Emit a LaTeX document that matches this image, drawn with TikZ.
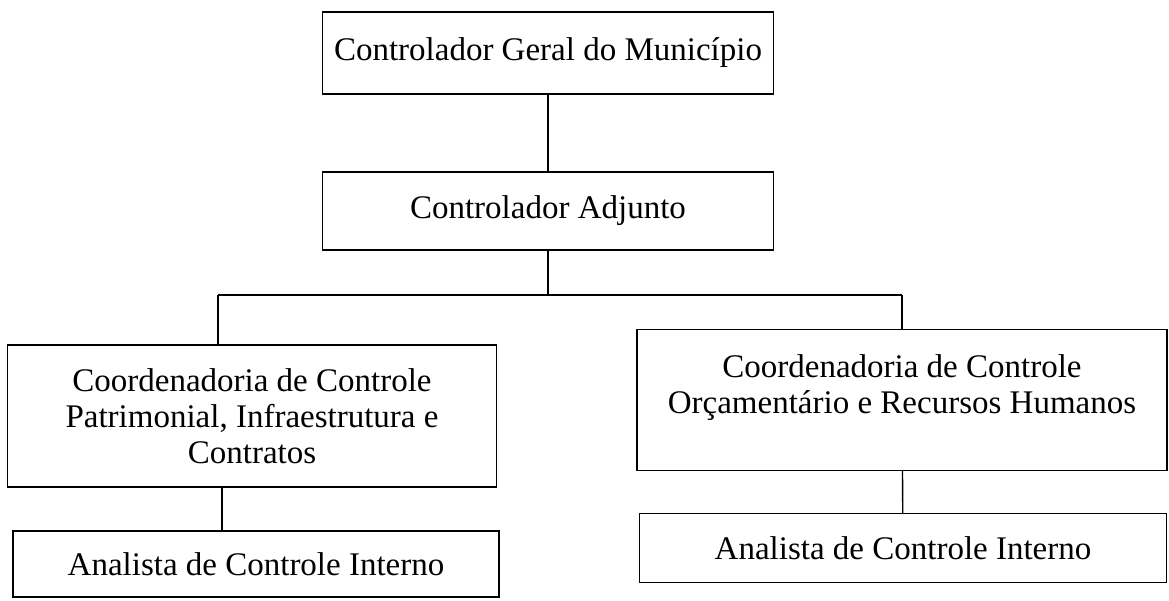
\documentclass[tikz,border=0pt]{standalone}
\usepackage{fontspec}
\setmainfont{Liberation Serif}
\begin{document}
\begin{tikzpicture}[x=1pt,y=-1pt,line width=1.4pt]
    \tikzstyle{orgbox}=[draw,align=center,inner sep=0pt,font=\fontsize{33}{36}\selectfont]
    \useasboundingbox (0,0) rectangle (1169,601);

    % upper levels
    \node[orgbox,minimum width=451pt,minimum height=82pt] (geral) at (548,53) {Controlador Geral do Município};
    \node[orgbox,minimum width=451pt,minimum height=78pt] (adjunto) at (548,211) {Controlador Adjunto};

    % coordinations
    \node[orgbox,minimum width=489pt,minimum height=142pt] (patrim) at (252,416)
        {Coordenadoria de Controle\\Patrimonial, Infraestrutura e\\Contratos};
    \node[orgbox,minimum width=530pt,minimum height=141pt] (orcam) at (902,400)
        {Coordenadoria de Controle\\Orçamentário e Recursos Humanos\\[-4pt]\mbox{}};

    % analysts
    \node[orgbox,minimum width=486pt,minimum height=66pt] (analistaA) at (256,564) {Analista de Controle Interno};
    \node[orgbox,minimum width=527pt,minimum height=69pt] (analistaB) at (903,548) {Analista de Controle Interno};

    \coordinate (barL) at (218,295);
    \coordinate (barR) at (902,295);

    \draw (geral) -- (adjunto);
    \draw (adjunto.south) -- (adjunto.south |- barL);
    \draw (barL) -- (barR);
    \draw (barL) -- (barL |- patrim.north);
    \draw (barR) -- (barR |- orcam.north);
    \draw ([xshift=-30pt]patrim.south) -- ([xshift=-30pt]patrim.south |- analistaA.north);
    \draw (orcam) -- (analistaB);

\end{tikzpicture}
\end{document}
